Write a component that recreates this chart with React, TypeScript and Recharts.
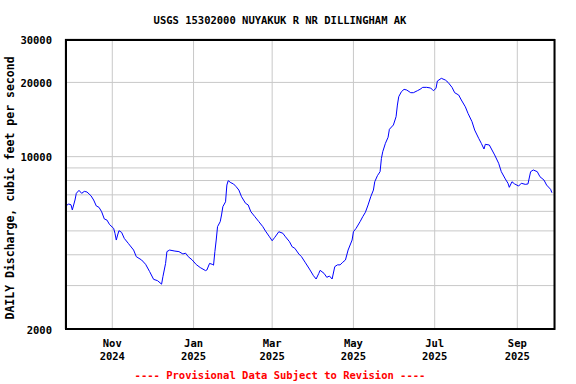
import { LineChart, Line, XAxis, YAxis, CartesianGrid } from "recharts";

// Daily mean discharge, NUYAKUK R NR DILLINGHAM AK (USGS 15302000)
// x = days since 2024-10-01, y = cubic feet per second
const days = [
  -4, -2, 0, 1, 3, 4, 6, 8, 10, 12,
  15, 17, 19, 21, 23, 25, 27, 29, 32, 33,
  34, 35, 36, 38, 40, 43, 44, 47, 49, 53,
  56, 59, 62, 65, 68, 69, 71, 72, 74, 78,
  81, 84, 86, 88, 91, 94, 97, 101, 102, 104,
  106, 107, 108, 109, 110, 112, 113, 114, 116, 117,
  118, 120, 122, 124, 126, 128, 131, 133, 135, 138,
  141, 144, 146, 149, 151, 153, 156, 159, 161, 164,
  166, 168, 171, 173, 176, 179, 182, 184, 186, 187,
  190, 192, 194, 196, 198, 200, 202, 204, 206, 208,
  211, 212, 214, 217, 219, 221, 223, 225, 227, 228,
  230, 232, 233, 234, 236, 238, 239, 242, 244, 245,
  246, 248, 250, 252, 255, 257, 260, 262, 264, 267,
  270, 272, 274, 275, 278, 281, 283, 286, 288, 291,
  293, 296, 298, 301, 303, 306, 308, 310, 311, 314,
  316, 318, 321, 323, 326, 328, 329, 331, 333, 336,
  338, 341, 343, 345, 347, 350, 352, 355, 357, 360,
  361,
];

const cfs = [
  6270, 6430, 6380, 6080, 6670, 7100, 7300, 7100, 7230, 7190,
  6940, 6670, 6310, 6230, 5980, 5590, 5530, 5300, 5120, 4890,
  4590, 4810, 5010, 4930, 4660, 4450, 4380, 4180, 3930, 3810,
  3660, 3420, 3180, 3140, 3040, 3260, 3690, 4120, 4180, 4140,
  4120, 4030, 4060, 3930, 3810, 3650, 3550, 3450, 3470, 3690,
  3660, 3630, 4120, 4590, 5200, 5450, 5800, 6270, 6560, 7670,
  7990, 7840, 7750, 7550, 7320, 6880, 6470, 6370, 5980, 5710,
  5450, 5200, 4990, 4730, 4560, 4710, 4960, 4890, 4730, 4520,
  4310, 4250, 4030, 3930, 3710, 3500, 3290, 3190, 3360, 3460,
  3360, 3240, 3280, 3190, 3580, 3640, 3640, 3730, 3810, 4180,
  4590, 4960, 5120, 5450, 5710, 5950, 6370, 6880, 7320, 7910,
  8370, 8690, 9840, 10470, 11320, 11980, 12910, 13440, 14520, 16190,
  17500, 18340, 18750, 18630, 18170, 18170, 18510, 18750, 19100, 19100,
  18980, 18510, 18930, 20260, 20780, 20450, 20020, 19100, 18170, 17780,
  16970, 15930, 14980, 13860, 12820, 11870, 11320, 10740, 11220, 11150,
  10640, 10160, 9400, 8690, 8120, 7800, 7510, 7910, 7750, 7600,
  7800, 7720, 7750, 8690, 8830, 8690, 8290, 8040, 7670, 7370,
  7140,
];

// month ticks (days since 2024-10-01) and their two-line labels
const monthTicks = [31, 92, 151, 212, 273, 335];
const monthLabels = ["Nov", "Jan", "Mar", "May", "Jul", "Sep"];
const yearLabels = ["2024", "2025", "2025", "2025", "2025", "2025"];

const flowTicks = [2000, 3000, 4000, 5000, 6000, 7000, 8000, 9000, 10000, 20000, 30000];
const labelledFlows = [2000, 10000, 20000, 30000];

const FONT = "'DejaVu Sans Mono', 'Liberation Mono', monospace";

const data = days.map((d, i) => ({ day: d, cfs: cfs[i] }));

function MonthTick(props: any) {
  const { x, payload } = props;
  const i = monthTicks.indexOf(payload.value);
  if (i < 0) return null;
  return (
    <text
      x={x}
      textAnchor="middle"
      fontFamily={FONT}
      fontWeight="bold"
      fontSize={10.5}
      fill="#000"
    >
      <tspan x={x} y={347}>{monthLabels[i]}</tspan>
      <tspan x={x} y={360}>{yearLabels[i]}</tspan>
    </text>
  );
}

function FlowTick(props: any) {
  const { y, payload } = props;
  if (!labelledFlows.includes(payload.value)) return null;
  return (
    <text
      x={52}
      y={y + 4.5}
      textAnchor="end"
      fontFamily={FONT}
      fontWeight="bold"
      fontSize={10.5}
      fill="#000"
    >
      {payload.value}
    </text>
  );
}

export default function App() {
  return (
    <div style={{ position: "absolute", left: 0, top: 0, width: 576, height: 384, background: "#fff" }}>
      <LineChart
        width={576}
        height={384}
        data={data}
        margin={{ top: 39, right: 21, bottom: 0, left: 0 }}
      >
        <CartesianGrid stroke="#c8c8c8" strokeWidth={1} />
        <XAxis
          dataKey="day"
          type="number"
          domain={[-4.5, 363.3]}
          ticks={monthTicks}
          interval={0}
          height={55}
          axisLine={false}
          tickLine={false}
          tick={<MonthTick />}
          allowDataOverflow
        />
        <YAxis
          dataKey="cfs"
          type="number"
          scale="log"
          domain={[2000, 30000]}
          ticks={flowTicks}
          interval={0}
          width={65}
          axisLine={false}
          tickLine={false}
          tick={<FlowTick />}
          allowDataOverflow
        />
        <Line
          type="linear"
          dataKey="cfs"
          stroke="#0000ff"
          strokeWidth={1}
          dot={false}
          isAnimationActive={false}
        />
      </LineChart>
      <svg
        width={576}
        height={384}
        style={{ position: "absolute", left: 0, top: 0, pointerEvents: "none" }}
      >
        <rect x={66} y={40} width={488.5} height={289} fill="none" stroke="#000" strokeWidth={2} />
        <text x={280} y={24} textAnchor="middle" fontFamily={FONT} fontWeight="bold" fontSize={10.5}>
          USGS 15302000 NUYAKUK R NR DILLINGHAM AK
        </text>
        <text
          x={0}
          y={0}
          transform="translate(14 188) rotate(-90)"
          textAnchor="middle"
          fontFamily={FONT}
          fontWeight="bold"
          fontSize={11.5}
        >
          DAILY Discharge, cubic feet per second
        </text>
        <text x={280} y={379} textAnchor="middle" fontFamily={FONT} fontWeight="bold" fontSize={10.5} fill="#ff0000">
          ---- Provisional Data Subject to Revision ----
        </text>
      </svg>
    </div>
  );
}
